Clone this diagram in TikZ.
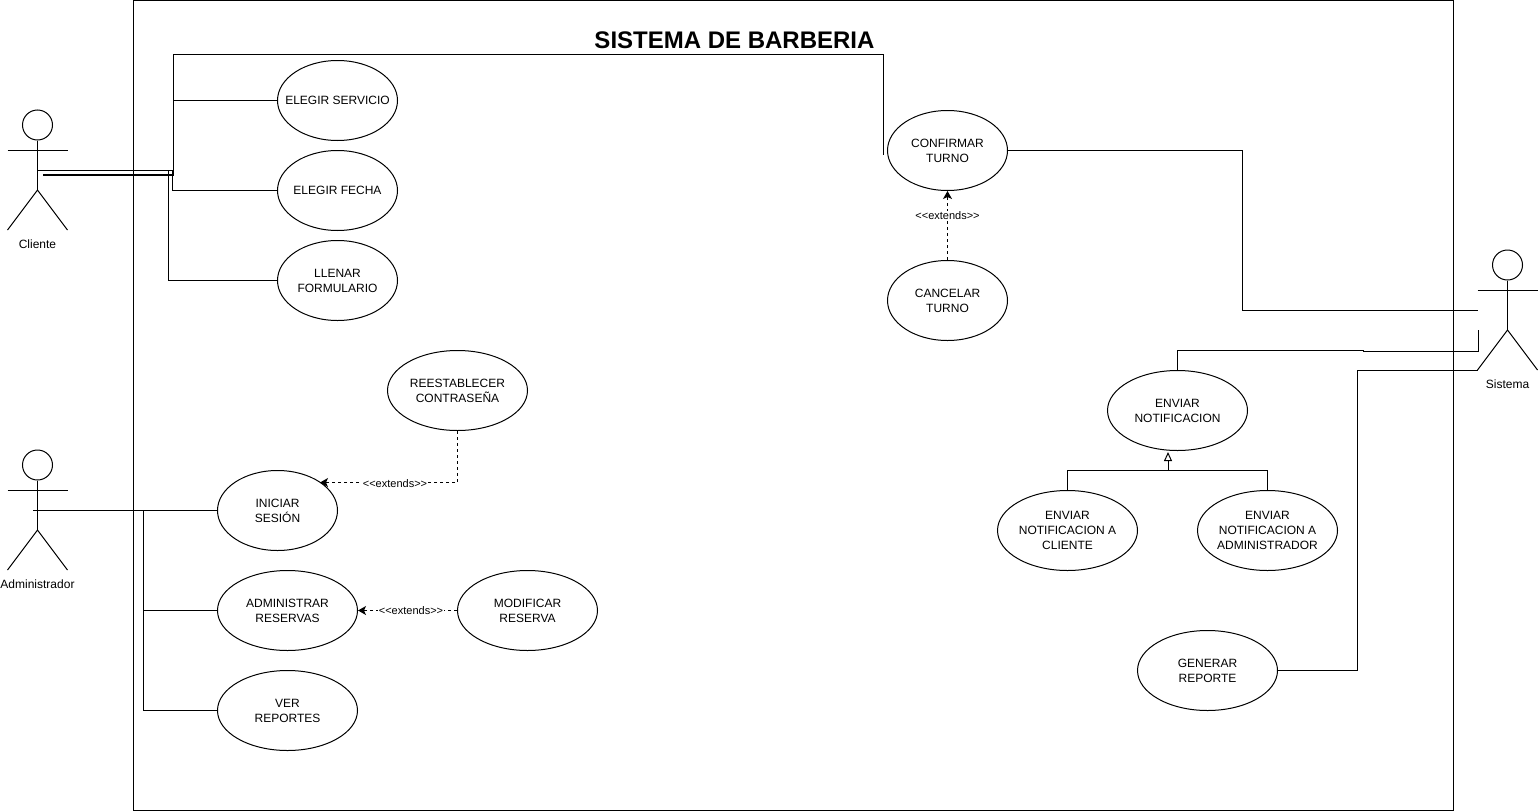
\documentclass[tikz,border=0pt]{standalone}
\usepackage{fontspec}
\setmainfont{Liberation Sans}
\usetikzlibrary{arrows.meta, shapes.geometric}
\newcommand{\tightlabel}[1]{\makebox[60pt]{#1}}
\newcommand{\extendstext}{{<}{<}extends{>}{>}}
\tikzset{
    every picture/.style={x=1pt, y=-1pt, line width=1pt},
    usecase/.style={draw, ellipse, inner sep=0pt, minimum width=#1, minimum height=80pt, align=center,
        font=\fontsize{12}{15}\selectfont},
    usecase/.default=140pt,
    actorname/.style={font=\fontsize{12}{14}\selectfont, inner sep=0pt},
    extendlabel/.style={fill=white, inner sep=0.5pt, font=\fontsize{11}{12}\selectfont},
    extendline/.style={dash pattern=on 3pt off 3pt, -{Stealth[length=8pt, width=9pt, inset=2pt]}},
    genline/.style={-{Triangle[open, fill=white, length=9pt, width=8pt]}},
    actor/.pic={
        \node[draw, circle, inner sep=0pt, minimum size=30pt] (-head) at (0,0) {};
        \coordinate (-hip) at (0,65);
        \draw (-head.south) -- (-hip);
        \draw (-30,25) -- (30,25);
        \draw (-30,105) -- (-hip) -- (30,105);
        \node[actorname] (-name) at (0,119) {#1};
    }
}
\begin{document}
\begin{tikzpicture}
    \useasboundingbox (0,0) rectangle (1538,811);
    \draw (133.5,0.5) rectangle (1453,810);
    \node[inner sep=0pt, font=\fontsize{24}{28}\bfseries] (titulo) at (734.5,40) {SISTEMA DE BARBERIA};

    \pic (cliente) at (37.5,125) {actor=Cliente};
    \pic (administrador) at (37.5,465) {actor=Administrador};
    \pic (sistema) at (1507.5,265) {actor=Sistema};

    \node[usecase=120pt] (servicio) at (337.5,100.5) {\tightlabel{ELEGIR SERVICIO}};
    \node[usecase=120pt] (fecha) at (337.5,190.5) {\tightlabel{ELEGIR FECHA}};
    \node[usecase=120pt] (formulario) at (337.5,280.5) {LLENAR\\FORMULARIO};
    \node[usecase=120pt] (confirmar) at (947.5,150.5) {CONFIRMAR\\TURNO};
    \node[usecase=120pt] (cancelar) at (947.5,300.5) {CANCELAR\\TURNO};
    \node[usecase] (reestablecer) at (457.5,390.5) {REESTABLECER\\CONTRASEÑA};
    \node[usecase=120pt] (iniciar) at (277.5,510.5) {INICIAR\\SESIÓN};
    \node[usecase] (reservas) at (287.5,610.5) {ADMINISTRAR\\RESERVAS};
    \node[usecase] (modificar) at (527.5,610.5) {MODIFICAR\\RESERVA};
    \node[usecase] (reportes) at (287.5,710.5) {VER\\REPORTES};
    \node[usecase] (enviar) at (1177.5,410.5) {ENVIAR\\NOTIFICACION};
    \node[usecase] (enviarcli) at (1067.5,530.5) {ENVIAR\\NOTIFICACION A\\CLIENTE};
    \node[usecase] (enviaradm) at (1267.5,530.5) {ENVIAR\\NOTIFICACION A\\\tightlabel{ADMINISTRADOR}};
    \node[usecase] (generar) at (1207.5,670.5) {GENERAR\\REPORTE};

    \coordinate (clientea) at (38,170.5);
    \coordinate (clienteb) at (43,175);
    \coordinate (clientec) at (43,174.5);
    \coordinate (busform) at (168.5,280.5);
    \coordinate (busfecha) at (172.5,190.5);
    \coordinate (busserv) at (173,100.5);
    \coordinate (busconf) at (173.5,54.5);
    \coordinate (confcorner) at (883,54.5);
    \coordinate (confend) at (883,155);
    \draw (clientea) -| (busform) -- (formulario.west);
    \draw (clientea) -| (busfecha) -- (fecha.west);
    \draw (clienteb) -| (busserv) -- (servicio.west);
    \draw (clientec) -| (busconf) -- (confcorner) -- (confend);

    \coordinate (sistemaa) at (1477.5,310.5);
    \coordinate (sistemab) at (1478,330);
    \coordinate (sistemac) at (1477.5,370.5);
    \coordinate (busnotif) at (1363,350.5);
    \coordinate (busnotifb) at (1363,351.5);
    \coordinate (busconfirm) at (1242.5,150.5);
    \coordinate (busgen) at (1357.5,370.5);
    \draw (confirmar.east) -- (busconfirm) |- (sistemaa);
    \draw (enviar.north) |- (busnotif) -- (busnotifb) -| (sistemab);
    \draw (generar.east) -| (busgen) -- (sistemac);

    \coordinate (administradora) at (33,510.5);
    \coordinate (busadm) at (143,510.5);
    \draw (administradora) -- (iniciar.west);
    \draw (busadm) |- (reservas.west);
    \draw (busadm) |- (reportes.west);

    \coordinate (reestcorner) at (457.5,482.5);
    \coordinate (iniciartip) at (320,482.5);
    \draw[extendline] (reestablecer.south) -- (reestcorner) -- (iniciartip);
    \node[extendlabel] (extuno) at (395,484) {\extendstext};
    \draw[extendline] (modificar.west) -- (reservas.east);
    \node[extendlabel] (extdos) at (411,611) {\extendstext};
    \draw[extendline] (cancelar.north) -- (confirmar.south);
    \node[extendlabel] (exttres) at (947.5,216) {\extendstext};

    \coordinate (genjoin) at (1168,470.5);
    \coordinate (gentip) at (1168,452);
    \draw (enviarcli.north) |- (genjoin) -| (enviaradm.north);
    \draw[genline] (genjoin) -- (gentip);
\end{tikzpicture}
\end{document}
